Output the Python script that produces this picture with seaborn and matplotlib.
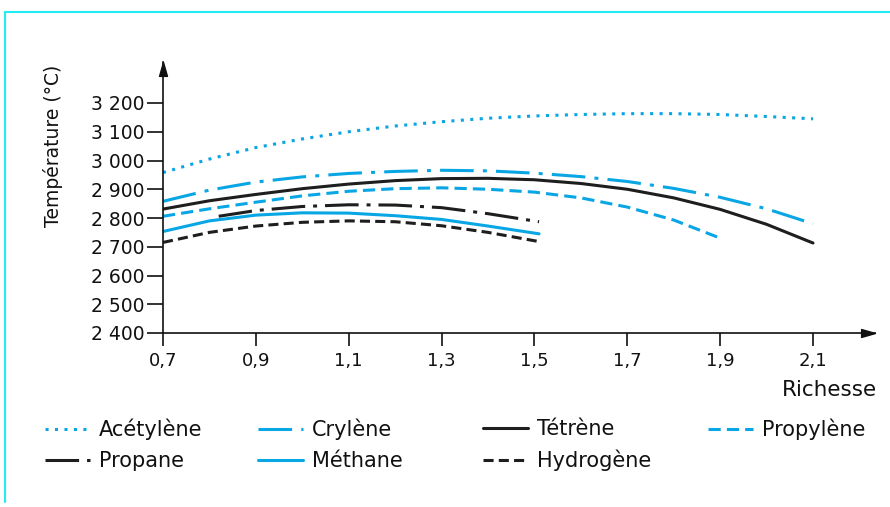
import numpy as np
import pandas as pd
import matplotlib
matplotlib.use("Agg")
import matplotlib.pyplot as plt
from matplotlib.lines import Line2D
import seaborn as sns

# --- data: flame temperature (°C) versus richness for several fuels ---
richesse_long = [0.7, 0.8, 0.9, 1.0, 1.1, 1.2, 1.3, 1.4, 1.5, 1.6, 1.7, 1.8, 1.9, 2.0, 2.1]
acetylene = [2958, 3005, 3045, 3075, 3100, 3120, 3135, 3147, 3155, 3160, 3163, 3163, 3160, 3153, 3145]
crylene = [2858, 2897, 2925, 2943, 2955, 2962, 2966, 2964, 2956, 2944, 2927, 2903, 2872, 2832, 2780]
tetrene = [2831, 2860, 2882, 2902, 2918, 2930, 2937, 2938, 2933, 2920, 2900, 2870, 2830, 2778, 2713]

richesse_propylene = [0.7, 0.8, 0.9, 1.0, 1.1, 1.2, 1.3, 1.4, 1.5, 1.6, 1.7, 1.8, 1.9]
propylene = [2806, 2832, 2855, 2877, 2893, 2902, 2905, 2900, 2890, 2870, 2838, 2793, 2730]

richesse_propane = [0.82, 0.9, 1.0, 1.1, 1.2, 1.3, 1.4, 1.51]
propane = [2806, 2826, 2840, 2846, 2845, 2836, 2815, 2787]

richesse_court = [0.7, 0.8, 0.9, 1.0, 1.1, 1.2, 1.3, 1.4, 1.51]
methane = [2753, 2790, 2810, 2818, 2817, 2808, 2795, 2772, 2745]
hydrogene = [2715, 2750, 2772, 2785, 2790, 2787, 2773, 2750, 2718]

x_ticks = [0.7, 0.9, 1.1, 1.3, 1.5, 1.7, 1.9, 2.1]
x_tick_labels = ["0,7", "0,9", "1,1", "1,3", "1,5", "1,7", "1,9", "2,1"]
y_ticks = [2400, 2500, 2600, 2700, 2800, 2900, 3000, 3100, 3200]
y_tick_labels = ["2 400", "2 500", "2 600", "2 700", "2 800", "2 900", "3 000", "3 100", "3 200"]

series = [
    ("Acétylène", richesse_long, acetylene),
    ("Crylène", richesse_long, crylene),
    ("Tétrène", richesse_long, tetrene),
    ("Propylène", richesse_propylene, propylene),
    ("Propane", richesse_propane, propane),
    ("Méthane", richesse_court, methane),
    ("Hydrogène", richesse_court, hydrogene),
]

BLUE = "#08a6e4"
BLACK = "#1e1e1e"
palette = {
    "Acétylène": BLUE, "Crylène": BLUE, "Tétrène": BLACK, "Propylène": BLUE,
    "Propane": BLACK, "Méthane": BLUE, "Hydrogène": BLACK,
}
# dash patterns, in units of the line width
dashes = {
    "Acétylène": (1, 2.1),
    "Crylène": (11, 3, 1.3, 3),
    "Tétrène": "",
    "Propylène": (4, 2),
    "Propane": (11, 2.6, 1.3, 2.6),
    "Méthane": "",
    "Hydrogène": (3.3, 1.7),
}

frames = [pd.DataFrame({"Richesse": x, "Température": y, "Gaz": name}) for name, x, y in series]
df = pd.concat(frames, ignore_index=True)

sns.set_style("ticks")
plt.rcParams["font.family"] = ["DejaVu Sans"]

W, H = 890, 507
fig = plt.figure(figsize=(W / 100, H / 100), dpi=100)
ax = fig.add_axes([163 / W, (H - 333) / H, (875 - 163) / W, (333 - 62) / H])

LW = 2.2
sns.lineplot(data=df, x="Richesse", y="Température", hue="Gaz", style="Gaz",
             palette=palette, dashes=dashes, linewidth=LW, sort=False,
             estimator=None, legend=False, ax=ax)

ax.set_xlim(0.7, 0.7 + 712 / (650 / 1.4))
ax.set_ylim(2400, 2400 + 271 / (230 / 800))
ax.set_xticks(x_ticks)
ax.set_xticklabels(x_tick_labels)
ax.set_yticks(y_ticks)
ax.set_yticklabels(y_tick_labels)
ax.set_xlabel("")
ax.set_ylabel("")

for side in ("top", "right"):
    ax.spines[side].set_visible(False)
for side in ("left", "bottom"):
    ax.spines[side].set_linewidth(1.2)
    ax.spines[side].set_color("#111111")
ax.tick_params(axis="x", length=9.5, width=1.2, pad=4, labelsize=13, colors="#111111")
ax.tick_params(axis="y", length=11.5, width=1.2, pad=1.5, labelsize=13.5, colors="#111111")

# arrow heads at the ends of both axes
up = [(0, 0), (-4, -14), (4, -14), (0, 0)]
right = [(0, 0), (-14, -4), (-14, 4), (0, 0)]
ax.plot([0], [1], marker=up, markersize=20, color="#111111", transform=ax.transAxes, clip_on=False)
ax.plot([1], [0], marker=right, markersize=20, color="#111111", transform=ax.transAxes, clip_on=False)

fig.text(53 / W, 1 - 146 / H, "Température (°C)", rotation=90, ha="center", va="center",
         fontsize=13.5, color="#111111")
fig.text(877 / W, 1 - 390 / H, "Richesse", ha="right", va="center", fontsize=15.5, color="#111111")

# legend laid out as four columns
def handle(name):
    d = dashes[name]
    h = Line2D([], [], color=palette[name], linewidth=LW)
    if d != "":
        h.set_dashes(d)
    return h

columns = [
    (45, ["Acétylène", "Propane"]),
    (258, ["Crylène", "Méthane"]),
    (483, ["Tétrène", "Hydrogène"]),
    (708, ["Propylène"]),
]
for xpos, names in columns:
    leg = fig.legend([handle(n) for n in names], names, loc="upper left",
                     bbox_to_anchor=(xpos / W, 1 - 419 / H), frameon=False,
                     fontsize=15, handlelength=2.15, handletextpad=0.45,
                     labelspacing=0.52, borderpad=0, borderaxespad=0)
    for t in leg.get_texts():
        t.set_color("#111111")

# thin cyan frame on the top and left edges
CYAN = "#22eef2"
fig.add_artist(Line2D([5 / W, 1], [1 - 12 / H, 1 - 12 / H], color=CYAN, linewidth=1.5))
fig.add_artist(Line2D([5 / W, 5 / W], [1 - 12 / H, 1 - 502 / H], color=CYAN, linewidth=1.5))

fig.savefig("out.png", dpi=100, facecolor="white")
